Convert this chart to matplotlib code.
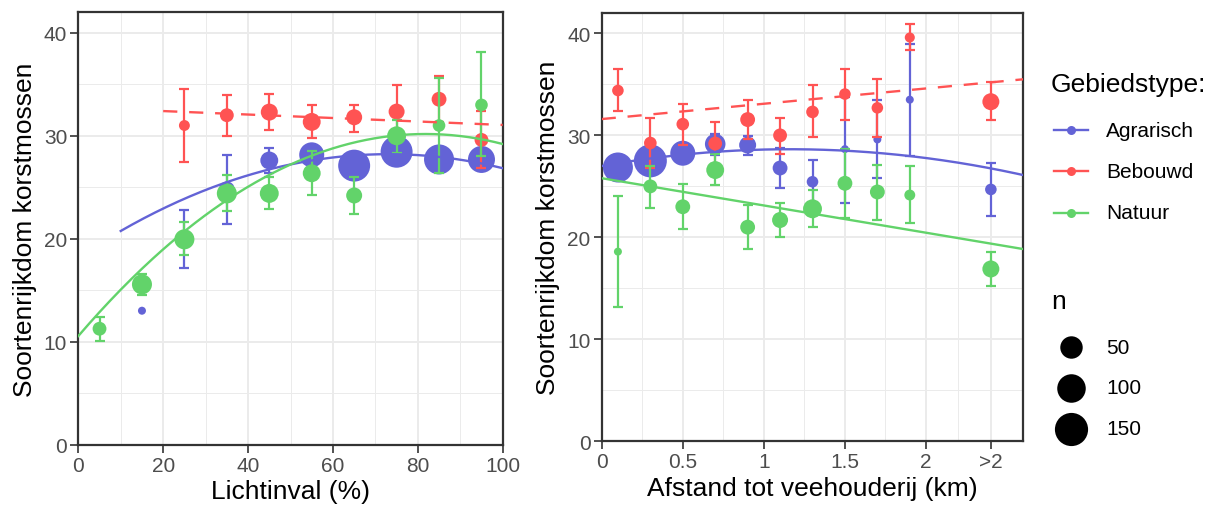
import numpy as np
import matplotlib
matplotlib.use("Agg")
import matplotlib.pyplot as plt

plt.rcParams['font.family'] = ['Liberation Sans', 'DejaVu Sans']

groups = ['Agrarisch', 'Bebouwd', 'Natuur']
colors = {'Agrarisch': '#6363D6', 'Bebouwd': '#FF5353', 'Natuur': '#62D36A'}

# ---------------- Left panel: Lichtinval (%) ----------------
licht_x = {
    'Agrarisch': [15, 25, 35, 45, 55, 65, 75, 85, 95],
    'Bebouwd':   [25, 35, 45, 55, 65, 75, 85, 95],
    'Natuur':    [5, 15, 25, 35, 45, 55, 65, 75, 85, 95],
}
licht_y = {
    'Agrarisch': [13.0, 20.0, 24.8, 27.6, 28.15, 27.1, 28.45, 27.7, 27.7],
    'Bebouwd':   [31.0, 32.0, 32.3, 31.35, 31.8, 32.35, 33.55, 29.6],
    'Natuur':    [11.25, 15.56, 19.94, 24.4, 24.4, 26.36, 24.2, 30.0, 31.0, 33.0],
}
licht_lo = {
    'Agrarisch': [13.0, 17.2, 21.4, 26.4, 27.3, 26.3, 27.7, 27.0, 27.0],
    'Bebouwd':   [27.5, 30.0, 30.6, 29.8, 30.4, 29.8, 31.3, 26.9],
    'Natuur':    [10.05, 14.5, 18.4, 22.7, 22.9, 24.2, 22.4, 28.3, 26.4, 28.0],
}
licht_hi = {
    'Agrarisch': [13.0, 22.8, 28.15, 28.8, 29.0, 27.9, 29.2, 28.4, 28.4],
    'Bebouwd':   [34.5, 33.95, 34.1, 33.0, 33.0, 34.9, 35.8, 32.4],
    'Natuur':    [12.4, 16.6, 21.6, 26.2, 26.0, 28.5, 26.0, 31.5, 35.6, 38.1],
}
licht_n = {
    'Agrarisch': [1, 10, 15, 24, 69, 136, 136, 115, 86],
    'Bebouwd':   [3, 9, 20, 24, 16, 16, 12, 9],
    'Natuur':    [9, 35, 35, 35, 29, 24, 16, 29, 6, 6],
}
# fitted model curves: polynomial coefficients (c0, c1, c2) and x-range
licht_fit = {
    'Agrarisch': ([18.196, 0.2742, -0.0018765], (10, 100)),
    'Bebouwd':   ([32.74, -0.016875, 0.0], (20, 100)),
    'Natuur':    ([10.54, 0.4801, -0.002935], (0, 100)),
}

# ---------------- Right panel: Afstand tot veehouderij (km) ----------------
afst_x = [0.1, 0.3, 0.5, 0.7, 0.9, 1.1, 1.3, 1.5, 1.7, 1.9, 2.4]
afst_ticks = [0, 0.5, 1, 1.5, 2, 2.4]
afst_ticklabels = ['0', '0.5', '1', '1.5', '2', '>2']
afst_y = {
    'Agrarisch': [26.85, 27.5, 28.25, 29.15, 29.05, 26.8, 25.45, 28.65, 29.6, 33.5, 24.7],
    'Bebouwd':   [34.4, 29.25, 31.1, 29.2, 31.55, 30.0, 32.3, 34.05, 32.7, 39.6, 33.3],
    'Natuur':    [18.6, 25.0, 23.0, 26.6, 21.0, 21.7, 22.8, 25.3, 24.45, 24.15, 16.9],
}
afst_lo = {
    'Agrarisch': [26.0, 26.7, 27.5, 28.1, 28.1, 24.8, 23.3, 23.4, 25.8, 28.0, 22.05],
    'Bebouwd':   [32.4, 26.8, 29.05, 27.15, 29.6, 28.2, 29.8, 31.5, 29.8, 38.4, 31.5],
    'Natuur':    [13.2, 22.9, 20.8, 25.15, 18.85, 20.0, 21.0, 21.9, 21.7, 21.4, 15.25],
}
afst_hi = {
    'Agrarisch': [27.7, 28.3, 29.0, 30.1, 29.95, 28.8, 27.6, 33.8, 33.5, 39.0, 27.3],
    'Bebouwd':   [36.5, 31.7, 33.1, 31.3, 33.5, 31.75, 34.9, 36.5, 35.5, 40.9, 35.25],
    'Natuur':    [24.1, 27.0, 25.2, 28.2, 23.2, 23.4, 24.6, 28.65, 27.1, 27.0, 18.6],
}
afst_n = {
    'Agrarisch': [115, 148, 69, 38, 20, 12, 4, 1, 1, 1, 4],
    'Bebouwd':   [4, 6, 6, 9, 12, 9, 6, 4, 4, 2, 20],
    'Natuur':    [1, 9, 12, 24, 12, 16, 29, 12, 12, 3, 20],
}
afst_fit = {
    'Agrarisch': ([26.996, 2.835, -1.222], (0, 2.6)),
    'Bebouwd':   ([31.6, 1.5, 0.0], (0, 2.6)),
    'Natuur':    ([25.8, -2.673, 0.0], (0, 2.6)),
}

legend_n = [50, 100, 150]
N_MIN, N_MAX = 1, 160
DPI = 100


def size_of(n):
    n = np.asarray(n, dtype=float)
    d_px = 8.0 + 26.0 * np.sqrt(np.clip((n - N_MIN) / (N_MAX - N_MIN), 0, 1))
    return (d_px * 72.0 / DPI) ** 2


fig = plt.figure(figsize=(12.13, 5.06), dpi=DPI)
W, H = 1213.0, 506.0
axL = fig.add_axes([78.3 / W, (H - 445.5) / H, 424.4 / W, 432.2 / H])
axR = fig.add_axes([601.7 / W, (H - 442.3) / H, 421.6 / W, 428.3 / H])


def style(ax, xlim, xmaj, xlabels, xminor, xlabel):
    ax.set_xlim(*xlim)
    ax.set_ylim(0, 42)
    ax.set_xticks(xmaj)
    ax.set_xticklabels(xlabels)
    ax.set_xticks(xminor, minor=True)
    ax.set_yticks([0, 10, 20, 30, 40])
    ax.set_yticks([5, 15, 25, 35], minor=True)
    ax.grid(which='major', color='#EBEBEB', lw=1.4)
    ax.grid(which='minor', color='#EBEBEB', lw=0.7)
    ax.set_axisbelow(True)
    ax.tick_params(which='minor', length=0)
    ax.tick_params(which='major', length=6, width=1.2, color='#333333',
                   labelsize=15, labelcolor='#4D4D4D', pad=2)
    for sp in ax.spines.values():
        sp.set_color('#333333')
        sp.set_linewidth(1.6)
    ax.set_xlabel(xlabel, fontsize=19, labelpad=3, color='black')
    ax.set_ylabel('Soortenrijkdom korstmossen', fontsize=19, labelpad=5, color='black')


def draw(ax, xs, ys, los, his, ns, fits, capsize):
    for i, g in enumerate(groups):
        x = np.asarray(xs[g] if isinstance(xs, dict) else xs, dtype=float)
        y = np.asarray(ys[g], dtype=float)
        lo = np.asarray(los[g], dtype=float)
        hi = np.asarray(his[g], dtype=float)
        m = hi > lo
        ax.errorbar(x[m], y[m], yerr=[y[m] - lo[m], hi[m] - y[m]], fmt='none',
                    ecolor=colors[g], elinewidth=1.6, capsize=capsize,
                    capthick=1.6, zorder=3 + i)
        ax.scatter(x, y, s=size_of(ns[g]), color=colors[g], linewidths=0, zorder=3 + i)
    for i, g in enumerate(groups):
        coef, (a, b) = fits[g]
        xx = np.linspace(a, b, 200)
        yy = coef[0] + coef[1] * xx + coef[2] * xx ** 2
        ls = (0, (6, 5)) if g == 'Bebouwd' else '-'
        ax.plot(xx, yy, color=colors[g], lw=1.7, ls=ls, zorder=7 + i)


style(axL, (0, 100), [0, 20, 40, 60, 80, 100], ['0', '20', '40', '60', '80', '100'],
      [10, 30, 50, 70, 90], 'Lichtinval (%)')
draw(axL, licht_x, licht_y, licht_lo, licht_hi, licht_n, licht_fit, 3.5)

style(axR, (0, 2.6), afst_ticks, afst_ticklabels, [0.25, 0.75, 1.25, 1.75, 2.2],
      'Afstand tot veehouderij (km)')
draw(axR, afst_x, afst_y, afst_lo, afst_hi, afst_n, afst_fit, 3.5)

# ---------------- Legends (drawn in pixel space) ----------------
lg = fig.add_axes([0, 0, 1, 1])
lg.set_xlim(0, W)
lg.set_ylim(H, 0)
lg.axis('off')
lg.text(1051, 85, 'Gebiedstype:', fontsize=19, va='center', ha='left')
for j, g in enumerate(groups):
    yy = 131 + j * 41.3
    lg.plot([1054, 1088], [yy, yy], color=colors[g], lw=1.7)
    lg.scatter([1071], [yy], s=(9 * 0.72) ** 2, color=colors[g], linewidths=0)
    lg.text(1106, yy, g, fontsize=15, va='center', ha='left')
lg.text(1051, 302, 'n', fontsize=19, va='center', ha='left')
for j, nv in enumerate(legend_n):
    yy = 348 + j * 41
    lg.scatter([1071], [yy], s=size_of(nv), color='black', linewidths=0)
    lg.text(1106, yy, str(nv), fontsize=15, va='center', ha='left')

fig.savefig('out.png', dpi=DPI)
